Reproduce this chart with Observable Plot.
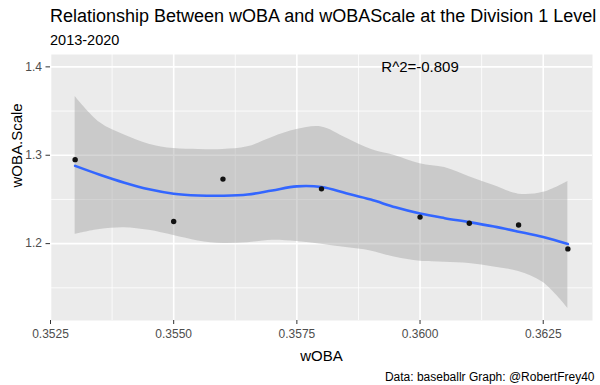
<!DOCTYPE html>
<html><head><meta charset="utf-8">
<script src="https://cdn.jsdelivr.net/npm/d3@7"></script>
<script src="https://cdn.jsdelivr.net/npm/@observablehq/plot@0.6"></script>
<style>
html,body{margin:0;padding:0;background:#fff;}
#wrap{position:relative;width:600px;height:385px;overflow:hidden;font-family:"Liberation Sans",Arial,sans-serif;color:#000;}
#title{position:absolute;left:50px;top:7px;font-size:18px;line-height:1;white-space:nowrap;}
#subtitle{position:absolute;left:50px;top:32.7px;font-size:14.5px;line-height:1;white-space:nowrap;}
#chart{position:absolute;left:0;top:54px;}
#caption{position:absolute;right:5.5px;top:370.6px;font-size:12px;line-height:1;white-space:nowrap;}
</style></head>
<body><div id="wrap">
<div id="title">Relationship Between wOBA and wOBAScale at the Division 1 Level</div>
<div id="subtitle">2013-2020</div>
<div id="chart"></div>
<div id="caption">Data: baseballr Graph: @RobertFrey40</div>
</div>
<script>
// observed points
const woba = [0.353, 0.355, 0.356, 0.358, 0.360, 0.361, 0.362, 0.363];
const wobaScale = [1.295, 1.225, 1.273, 1.262, 1.230, 1.223, 1.221, 1.194];

// loess smooth
const smoothX = [0.353, 0.3535, 0.354, 0.3545, 0.355, 0.3555, 0.356, 0.3565, 0.357, 0.3575, 0.358,
                 0.3585, 0.359, 0.3595, 0.360, 0.3605, 0.361, 0.3615, 0.362, 0.3625, 0.363];
const smoothFit = [1.2880, 1.2780, 1.2690, 1.2615, 1.2565, 1.2545, 1.2542, 1.2555, 1.2602, 1.2648, 1.2640,
                   1.2570, 1.2498, 1.2411, 1.2340, 1.2288, 1.2243, 1.2193, 1.2135, 1.2074, 1.1995];
const smoothLo = [1.2105, 1.2160, 1.2180, 1.2150, 1.2092, 1.2031, 1.2002, 1.2011, 1.2037, 1.2023, 1.1993,
                  1.1955, 1.1917, 1.1845, 1.1800, 1.1790, 1.1775, 1.1734, 1.1685, 1.1560, 1.1268];
const smoothHi = [1.3665, 1.3370, 1.3228, 1.3125, 1.3075, 1.3065, 1.3065, 1.3095, 1.3202, 1.3290, 1.3320,
                  1.3195, 1.3068, 1.2995, 1.2905, 1.2860, 1.2758, 1.2658, 1.2560, 1.2580, 1.2704];

// axes
const xTicks = [0.3525, 0.3550, 0.3575, 0.3600, 0.3625];
const xMinor = [0.35375, 0.35625, 0.35875, 0.36125];
const yTicks = [1.2, 1.3, 1.4];
const yMinor = [1.15, 1.25, 1.35];

// annotation
const annX = 0.360;
const annY = 1.4;
const annLabel = "R^2=-0.809";

const points = woba.map((x, i) => ({x, y: wobaScale[i]}));
const smooth = smoothX.map((x, i) => ({x, fit: smoothFit[i], lo: smoothLo[i], hi: smoothHi[i]}));

const chart = Plot.plot({
  width: 600,
  height: 331,
  marginTop: 0,
  marginBottom: 65,
  marginLeft: 50,
  marginRight: 8,
  style: {fontFamily: "'Liberation Sans', Arial, sans-serif", background: "transparent", overflow: "visible", color: "#000"},
  x: {domain: [0.3525, 0.3635]},
  y: {domain: [1.113, 1.414]},
  marks: [
    Plot.frame({fill: "#EBEBEB", stroke: null}),
    Plot.ruleX(xMinor, {stroke: "white", strokeWidth: 0.8}),
    Plot.ruleY(yMinor, {stroke: "white", strokeWidth: 0.8}),
    Plot.ruleX(xTicks, {stroke: "white", strokeWidth: 1.6}),
    Plot.ruleY(yTicks, {stroke: "white", strokeWidth: 1.6}),
    Plot.areaY(smooth, {x: "x", y1: "lo", y2: "hi", fill: "#999999", fillOpacity: 0.4, curve: "catmull-rom"}),
    Plot.line(smooth, {x: "x", y: "fit", stroke: "#3366FF", strokeWidth: 2.6, curve: "catmull-rom"}),
    Plot.dot(points, {x: "x", y: "y", r: 2.7, fill: "#111111"}),
    Plot.text([{x: annX, y: annY, label: annLabel}], {x: "x", y: "y", text: "label", fontSize: 15, fill: "black"}),
    Plot.axisX(xTicks, {tickFormat: d3.format(".4f"), tickSize: 4, tickPadding: 5, fontSize: 12, fill: "#4D4D4D", stroke: "#333333", label: null}),
    Plot.axisY(yTicks, {tickFormat: d3.format(".1f"), tickSize: 4.5, tickPadding: 4, fontSize: 12, fill: "#4D4D4D", stroke: "#333333", label: null}),
    Plot.text(["wOBA"], {text: d => d, frameAnchor: "bottom", dy: 40.3, lineAnchor: "bottom", fontSize: 15, fill: "black"}),
    Plot.text(["wOBA.Scale"], {text: d => d, frameAnchor: "left", dx: -39.5, rotate: -90, lineAnchor: "top", fontSize: 15, fill: "black"})
  ]
});
document.getElementById("chart").appendChild(chart);
</script>
</body></html>
